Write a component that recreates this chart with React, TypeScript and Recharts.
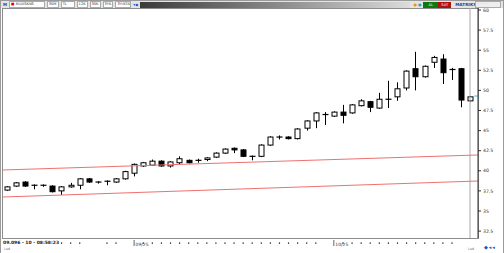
import React from 'react';
import { ComposedChart, Bar, XAxis, YAxis, ReferenceLine } from 'recharts';

// Daily candles
const opens = [37.6, 38.1, 38.6, 38.2, 38.2, 38.1, 37.5, 38.0, 38.2, 39.0, 38.6, 38.7, 38.6, 39.0, 39.7, 40.6, 40.7, 41.2, 40.6, 41.0, 41.3, 41.3, 41.4, 41.7, 42.2, 42.8, 42.6, 41.8, 41.8, 43.2, 44.2, 44.2, 44.0, 45.3, 46.2, 47.0, 46.8, 47.3, 47.2, 48.1, 48.6, 47.8, 48.9, 49.2, 50.3, 52.7, 51.7, 53.5, 53.9, 52.6, 52.7, 48.7];
const highs = [38.1, 38.6, 38.7, 38.3, 38.3, 38.2, 38.1, 38.5, 39.1, 39.1, 38.7, 38.8, 39.1, 40.0, 40.9, 41.1, 41.4, 41.3, 41.2, 41.8, 41.4, 41.5, 41.7, 42.3, 42.8, 42.9, 42.7, 41.9, 43.3, 44.3, 44.4, 44.3, 45.3, 46.3, 47.3, 47.3, 47.4, 48.2, 48.3, 48.9, 48.7, 49.7, 51.2, 51.0, 52.5, 54.8, 53.1, 54.3, 54.5, 52.8, 52.8, 49.3];
const lows = [37.5, 38.0, 38.0, 37.7, 38.0, 37.3, 37.0, 37.9, 37.7, 38.5, 38.4, 38.2, 38.5, 38.9, 39.3, 40.5, 40.6, 40.5, 40.4, 40.8, 40.9, 41.0, 41.2, 41.6, 42.1, 42.2, 41.7, 41.3, 41.7, 43.1, 43.9, 43.9, 43.9, 45.0, 45.3, 45.7, 46.7, 45.9, 47.1, 48.0, 47.3, 47.7, 47.8, 48.7, 50.0, 50.0, 51.6, 52.8, 50.8, 51.3, 47.9, 48.6];
const closes = [38.0, 38.5, 38.1, 38.2, 38.2, 37.4, 38.0, 38.2, 39.0, 38.6, 38.6, 38.6, 39.0, 39.9, 40.8, 41.0, 41.2, 40.6, 41.1, 41.5, 41.0, 41.3, 41.6, 42.2, 42.7, 42.6, 41.8, 41.8, 43.2, 44.2, 44.2, 44.0, 45.2, 46.2, 47.2, 46.9, 47.3, 46.9, 48.2, 48.7, 47.9, 48.9, 48.9, 50.2, 52.4, 51.7, 53.0, 54.1, 52.2, 52.5, 48.8, 49.2];

const priceTicks = [32.5, 35, 37.5, 40, 42.5, 45, 47.5, 50, 52.5, 55, 57.5, 60];
const dayTicks = [6, 7, 8, 11, 12, 14, 15, 16, 17, 18, 19, 20, 21, 22, 23, 24, 25, 26, 27, 28, 29, 30, 31, 32, 33, 34, 36, 37, 38, 39, 40, 41, 42, 43, 44, 45, 46, 47, 48, 49];
const monthLabels: Record<number, string> = { 14: '09/25', 36: '10/25' };

// channel lines (start / end of the plot)
const upperChannel = [{ x: -0.44, y: 40.1 }, { x: 51.88, y: 41.97 }];
const lowerChannel = [{ x: -0.44, y: 36.74 }, { x: 51.88, y: 38.73 }];
const lastPrice = 49.3;

const data = opens.map((o, i) => ({ i, open: o, high: highs[i], low: lows[i], close: closes[i] }));

const Candle = (props: any) => {
  const { x, y, width, height, payload } = props;
  const { open, close, high, low } = payload;
  const k = height / (high - low);
  const yo = y + (high - open) * k;
  const yc = y + (high - close) * k;
  const cx = Math.round(x + width / 2) + 0.5;
  const top = Math.min(yo, yc);
  const h = Math.abs(yo - yc);
  const left = cx - width / 2;
  return (
    <g>
      <line x1={cx} x2={cx} y1={y} y2={y + height} stroke="#000" strokeWidth={1} />
      {h < 1 ? (
        <line x1={left - 0.5} x2={left + width + 0.5} y1={top} y2={top} stroke="#000" strokeWidth={1.2} />
      ) : (
        <rect x={left} y={top} width={width} height={h} fill={close >= open ? '#fff' : '#000'} stroke="#000" strokeWidth={1} />
      )}
    </g>
  );
};

const DayTick = (props: any) => {
  const { x, y, payload } = props;
  const lbl = monthLabels[payload.value];
  if (lbl) {
    return (
      <g>
        <line x1={x} x2={x} y1={y} y2={y + 6} stroke="#666" />
        <text x={x + 1.5} y={y + 5.5} fontSize={4.5} fill="#333" fontFamily="DejaVu Sans">{lbl}</text>
      </g>
    );
  }
  return <rect x={x - 0.5} y={y + 2.5} width={1.2} height={1.2} fill="#000" />;
};

const tb: React.CSSProperties = {
  height: 5, border: '1px solid #aaa', background: '#fff', fontSize: 3.6, lineHeight: '5px',
  padding: '0 1px', marginRight: 2, color: '#333', whiteSpace: 'nowrap', overflow: 'hidden',
};

export default function App() {
  return (
    <div style={{ position: 'absolute', left: 0, top: 0, width: 504, height: 253, background: '#fff', fontFamily: 'DejaVu Sans', overflow: 'hidden' }}>
      <div style={{ position: 'absolute', left: 0, top: 0, width: 502, height: 252, border: '1px solid #9a9a9a' }} />
      {/* toolbar */}
      <div style={{ position: 'absolute', left: 1, top: 1, width: 502, height: 7, background: '#e4e4e4', display: 'flex', alignItems: 'center' }}>
        <span style={{ fontSize: 4, color: '#1a3fa0', fontWeight: 700, margin: '0 2px 0 2px' }}>M</span>
        <span style={{ ...tb, width: 32, color: '#333' }}><span style={{ color: '#d00' }}>■</span> XU/ASKNS</span>
        <span style={{ ...tb, width: 8 }}>30M</span>
        <span style={{ ...tb, width: 10 }}>TL</span>
        <span style={{ ...tb, width: 7 }}>12K</span>
        <span style={{ ...tb, width: 7 }}>30K</span>
        <span style={{ ...tb, width: 7 }}>3YK</span>
        <span style={{ ...tb, width: 12 }}>3Y/KTAP</span>
        <span style={{ fontSize: 4, color: '#15c', marginRight: 2 }}>▾◆</span>
        <div style={{ width: 272, height: 6, background: 'linear-gradient(to right, #3a3a3a, #909090 55%, #dcdcdc)' }} />
        <span style={{ fontSize: 4, color: '#e90', margin: '0 1px 0 3px' }}>●</span>
        <span style={{ fontSize: 4, color: '#2aa', marginRight: 2 }}>●</span>
        <span style={{ width: 15, height: 6, background: '#0a7a10', color: '#fff', fontSize: 3.6, textAlign: 'center', lineHeight: '6px' }}>AL</span>
        <span style={{ width: 13, height: 6, background: '#b01010', color: '#fff', fontSize: 3.6, textAlign: 'center', lineHeight: '6px', marginRight: 4 }}>SAT</span>
        <span style={{ fontSize: 4.2, color: '#1a3fa0', fontWeight: 700, width: 20 }}>MATRIKS</span>
        <span style={{ ...tb, width: 22, background: '#eee', color: '#999' }}>· · · · ·</span>
      </div>
      <div style={{ position: 'absolute', left: 2, top: 8, width: 475, height: 229, border: '1px solid #8c8c8c' }} />
      <div style={{ position: 'absolute', left: 0, top: 0 }}>
        <ComposedChart width={504} height={253} data={data} margin={{ top: 8, right: 0, bottom: 0, left: 3 }}>
          <XAxis
            dataKey="i"
            type="number"
            domain={[-0.44, 51.88]}
            ticks={dayTicks}
            interval={0}
            height={15}
            axisLine={false}
            tickLine={false}
            tickSize={0}
            tick={<DayTick />}
          />
          <YAxis
            orientation="right"
            domain={[31.64, 60.25]}
            ticks={priceTicks}
            interval={0}
            width={26}
            tick={{ fontSize: 4.6, fill: '#333', fontFamily: 'DejaVu Sans' }}
            tickSize={3}
            tickLine={{ stroke: '#333' }}
            axisLine={{ stroke: '#333' }}
            tickFormatter={(v: number) => String(v)}
          />
          <ReferenceLine x={51} stroke="#a8a8a8" strokeWidth={1} />
          <ReferenceLine segment={upperChannel} stroke="#f07070" strokeWidth={1} />
          <ReferenceLine segment={lowerChannel} stroke="#f07070" strokeWidth={1} />
          <ReferenceLine segment={[{ x: 51.45, y: lastPrice }, { x: 51.88, y: lastPrice }]} stroke="#30c8e0" strokeWidth={1} />
          <Bar dataKey={(d: any) => [d.low, d.high]} barSize={5} shape={<Candle />} isAnimationActive={false} />
        </ComposedChart>
      </div>
      {/* status texts */}
      <div style={{ position: 'absolute', left: 3, top: 240, fontSize: 4.5, fontWeight: 700, color: '#222', whiteSpace: 'nowrap' }}>09.096 - 10 - 08:58:23</div>
      <div style={{ position: 'absolute', left: 4, top: 247, fontSize: 3.6, color: '#777' }}>Lsd</div>
      <div style={{ position: 'absolute', left: 468, top: 247, fontSize: 3.6, color: '#777' }}>Lsd</div>
      <div style={{ position: 'absolute', left: 484, top: 244, fontSize: 5, color: '#2050c0', letterSpacing: 1 }}>◆◂◂</div>
    </div>
  );
}
